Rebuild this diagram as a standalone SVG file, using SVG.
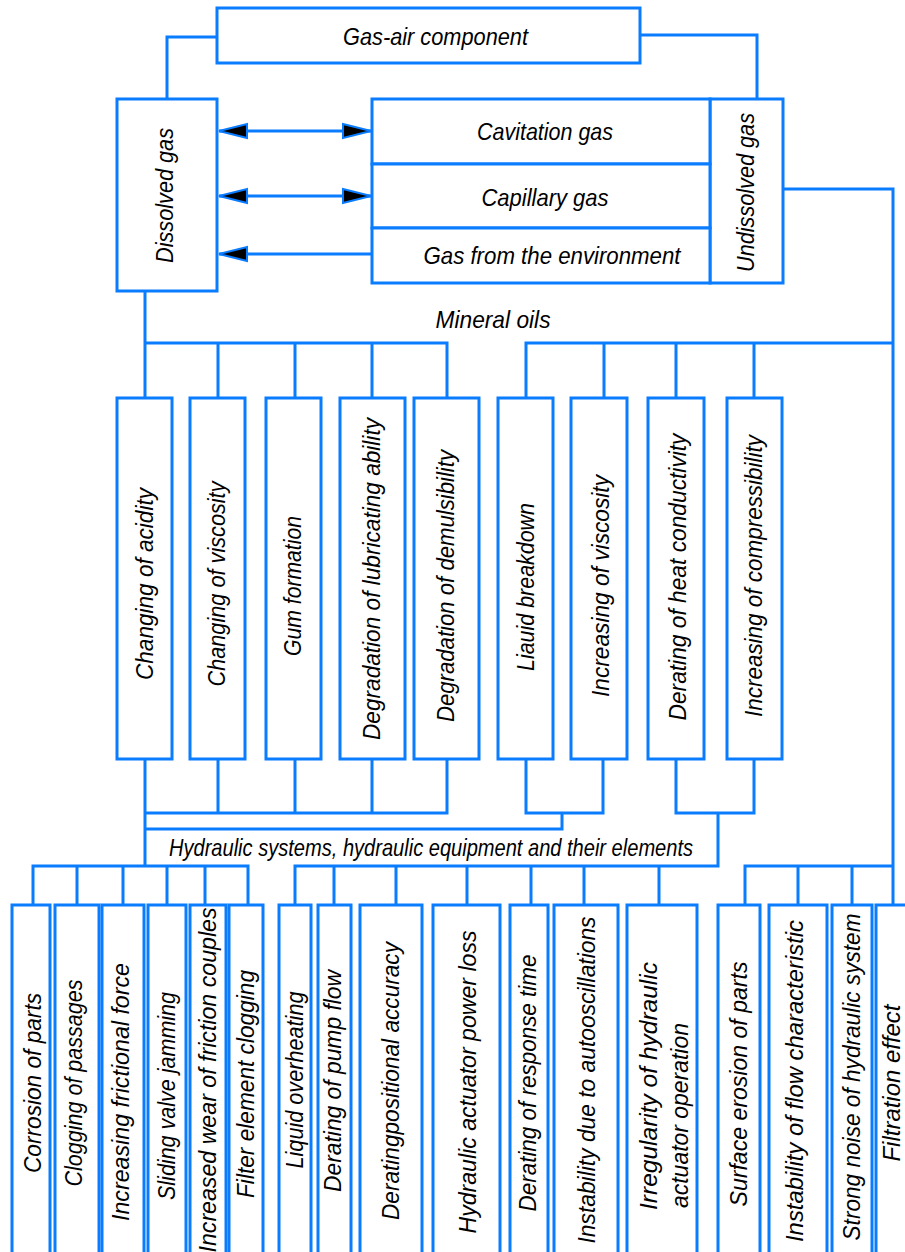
<svg xmlns="http://www.w3.org/2000/svg" width="905" height="1252" viewBox="0 0 905 1252">
<style>
.b{fill:#fff;stroke:#0a7cff;stroke-width:3}
.c{fill:none;stroke:#0a7cff;stroke-width:3}
.t{font-family:"Liberation Sans",Arial,sans-serif;font-style:italic;font-size:24px;fill:#000;text-anchor:middle;dominant-baseline:central}
.s{text-anchor:start}
</style>
<defs>
<marker id="ah" markerUnits="userSpaceOnUse" viewBox="-2 -9 32 18" markerWidth="32" markerHeight="18" refX="28" refY="0" orient="auto-start-reverse" overflow="visible">
<path d="M0,-7 L28,0 L0,7 Z" fill="#000" stroke="#0a7cff" stroke-width="2"/>
</marker>
</defs>
<rect width="905" height="1252" fill="#fff"/>

<g id="connectors">
<path class="c" d="M217,37 H167 V99"/>
<path class="c" d="M640,35 H757 V99"/>
<path class="c" d="M219,131 H371" marker-start="url(#ah)" marker-end="url(#ah)"/>
<path class="c" d="M219,196 H371" marker-start="url(#ah)" marker-end="url(#ah)"/>
<path class="c" d="M219,254 H372" marker-start="url(#ah)"/>
<path class="c" d="M783,189 H893 V905"/>
<path class="c" d="M145,291 V398 M145,343 H447 V398 M218,343 V398 M295,343 V398 M372,343 V398"/>
<path class="c" d="M893,343 H526 V398 M604,343 V398 M676,343 V398 M754,343 V398"/>
<path class="c" d="M145,759 V866 M145,813 H447 V759 M218,759 V813 M295,759 V813 M372,759 V813"/>
<path class="c" d="M526,759 V813 H603 V759 M562,813 V829 H145"/>
<path class="c" d="M676,759 V813 H754 V759 M718,813 V866 H295 V905"/>
<path class="c" d="M33,905 V866 H248 V905 M77,866 V905 M123,866 V905 M167,866 V905 M205,866 V905"/>
<path class="c" d="M334,866 V905 M396,866 V905 M467,866 V905 M531,866 V905 M584,866 V905 M659,866 V905"/>
<path class="c" d="M745,905 V866 H893 M798,866 V905 M852,866 V905"/>
</g>

<g id="n-gasair"><rect class="b" x="217" y="8" width="423" height="55"/><text class="t" x="435.5" y="36" textLength="185" lengthAdjust="spacingAndGlyphs">Gas-air component</text></g>
<g id="n-dissolved"><rect class="b" x="117" y="99" width="100" height="192"/><text class="t" transform="translate(164,195.5) rotate(-90)" textLength="135" lengthAdjust="spacingAndGlyphs">Dissolved gas</text></g>
<g id="n-undissolved"><rect class="b" x="710" y="99" width="73" height="184"/><text class="t" transform="translate(745,192.5) rotate(-90)" textLength="159" lengthAdjust="spacingAndGlyphs">Undissolved gas</text></g>
<g id="n-cavitation"><rect class="b" x="372" y="99" width="338" height="65"/><text class="t" x="545" y="131" textLength="136" lengthAdjust="spacingAndGlyphs">Cavitation gas</text></g>
<g id="n-capillary"><rect class="b" x="372" y="164" width="338" height="64"/><text class="t" x="545" y="197" textLength="127" lengthAdjust="spacingAndGlyphs">Capillary gas</text></g>
<g id="n-environment"><rect class="b" x="372" y="228" width="338" height="55"/><text class="t" x="552" y="255" textLength="257" lengthAdjust="spacingAndGlyphs">Gas from the environment</text></g>
<g id="n-mineral"><text class="t" x="493" y="319" textLength="115" lengthAdjust="spacingAndGlyphs">Mineral oils</text></g>
<g id="n-hydraulic"><text class="t" x="431" y="847" textLength="524" lengthAdjust="spacingAndGlyphs">Hydraulic systems, hydraulic equipment and their elements</text></g>

<g id="n-m1"><rect class="b" x="117" y="398" width="55" height="361"/><text class="t" transform="translate(144,584) rotate(-90)" textLength="192" lengthAdjust="spacingAndGlyphs">Changing of acidity</text></g>
<g id="n-m2"><rect class="b" x="190" y="398" width="55" height="361"/><text class="t" transform="translate(216.5,584) rotate(-90)" textLength="205" lengthAdjust="spacingAndGlyphs">Changing of viscosity</text></g>
<g id="n-m3"><rect class="b" x="266" y="398" width="55" height="361"/><text class="t" transform="translate(292,586) rotate(-90)" textLength="140" lengthAdjust="spacingAndGlyphs">Gum formation</text></g>
<g id="n-m4"><rect class="b" x="340" y="398" width="65" height="361"/><text class="t" transform="translate(371,579) rotate(-90)" textLength="322" lengthAdjust="spacingAndGlyphs">Degradation of lubricating ability</text></g>
<g id="n-m5"><rect class="b" x="414" y="398" width="65" height="361"/><text class="t" transform="translate(445,586) rotate(-90)" textLength="272" lengthAdjust="spacingAndGlyphs">Degradation of demulsibility</text></g>
<g id="n-m6"><rect class="b" x="498" y="398" width="55" height="361"/><text class="t" transform="translate(525,587) rotate(-90)" textLength="168" lengthAdjust="spacingAndGlyphs">Liauid breakdown</text></g>
<g id="n-m7"><rect class="b" x="571" y="398" width="56" height="361"/><text class="t" transform="translate(600,586) rotate(-90)" textLength="222" lengthAdjust="spacingAndGlyphs">Increasing of viscosity</text></g>
<g id="n-m8"><rect class="b" x="648" y="398" width="56" height="361"/><text class="t" transform="translate(677.5,577) rotate(-90)" textLength="287" lengthAdjust="spacingAndGlyphs">Derating of heat conductivity</text></g>
<g id="n-m9"><rect class="b" x="727" y="398" width="55" height="361"/><text class="t" transform="translate(753,576) rotate(-90)" textLength="282" lengthAdjust="spacingAndGlyphs">Increasing of compressibility</text></g>

<g id="n-b1"><rect class="b" x="12" y="905" width="38" height="370"/><text class="t" transform="translate(32,1083) rotate(-90)" textLength="180" lengthAdjust="spacingAndGlyphs">Corrosion of parts</text></g>
<g id="n-b2"><rect class="b" x="55" y="905" width="44" height="370"/><text class="t" transform="translate(73,1083) rotate(-90)" textLength="207" lengthAdjust="spacingAndGlyphs">Clogging of passages</text></g>
<g id="n-b3"><rect class="b" x="102" y="905" width="42" height="370"/><text class="t" transform="translate(120,1092) rotate(-90)" textLength="258" lengthAdjust="spacingAndGlyphs">Increasing frictional force</text></g>
<g id="n-b4"><rect class="b" x="148" y="905" width="38" height="370"/><text class="t" transform="translate(166,1096) rotate(-90)" textLength="208" lengthAdjust="spacingAndGlyphs">Sliding valve jamming</text></g>
<g id="n-b5"><rect class="b" x="190" y="905" width="36" height="370"/><text class="t" transform="translate(207,1080) rotate(-90)" textLength="345" lengthAdjust="spacingAndGlyphs">Increased wear of friction couples</text></g>
<g id="n-b6"><rect class="b" x="229" y="905" width="34" height="370"/><text class="t" transform="translate(245,1084) rotate(-90)" textLength="228" lengthAdjust="spacingAndGlyphs">Filter element clogging</text></g>
<g id="n-b7"><rect class="b" x="279" y="905" width="32" height="370"/><text class="t" transform="translate(294,1080) rotate(-90)" textLength="177" lengthAdjust="spacingAndGlyphs">Liquid overheating</text></g>
<g id="n-b8"><rect class="b" x="318" y="905" width="33" height="370"/><text class="t" transform="translate(332,1081) rotate(-90)" textLength="222" lengthAdjust="spacingAndGlyphs">Derating of pump flow</text></g>
<g id="n-b9"><rect class="b" x="360" y="905" width="62" height="370"/><text class="t" transform="translate(390,1081) rotate(-90)" textLength="278" lengthAdjust="spacingAndGlyphs">Deratingpositional accuracy</text></g>
<g id="n-b10"><rect class="b" x="433" y="905" width="67" height="370"/><text class="t" transform="translate(467,1082) rotate(-90)" textLength="303" lengthAdjust="spacingAndGlyphs">Hydraulic actuator power loss</text></g>
<g id="n-b11"><rect class="b" x="510" y="905" width="38" height="370"/><text class="t" transform="translate(527,1083) rotate(-90)" textLength="257" lengthAdjust="spacingAndGlyphs">Derating of response time</text></g>
<g id="n-b12"><rect class="b" x="554" y="905" width="64" height="370"/><text class="t" transform="translate(586,1080) rotate(-90)" textLength="327" lengthAdjust="spacingAndGlyphs">Instability due to autooscillations</text></g>
<g id="n-b13"><rect class="b" x="627" y="905" width="70" height="370"/><text class="t s" transform="translate(648,1210) rotate(-90)" textLength="248" lengthAdjust="spacingAndGlyphs">Irregularity of hydraulic</text><text class="t s" transform="translate(679,1208) rotate(-90)" textLength="185" lengthAdjust="spacingAndGlyphs">actuator operation</text></g>
<g id="n-b14"><rect class="b" x="718" y="905" width="42" height="370"/><text class="t" transform="translate(738,1084) rotate(-90)" textLength="245" lengthAdjust="spacingAndGlyphs">Surface erosion of parts</text></g>
<g id="n-b15"><rect class="b" x="769" y="905" width="58" height="370"/><text class="t" transform="translate(794,1081) rotate(-90)" textLength="322" lengthAdjust="spacingAndGlyphs">Instability of flow characteristic</text></g>
<g id="n-b16"><rect class="b" x="832" y="905" width="40" height="370"/><text class="t" transform="translate(851,1077) rotate(-90)" textLength="327" lengthAdjust="spacingAndGlyphs">Strong noise of hydraulic system</text></g>
<g id="n-b17"><rect class="b" x="876" y="905" width="40" height="370"/><text class="t" transform="translate(891,1083) rotate(-90)" textLength="157" lengthAdjust="spacingAndGlyphs">Filtration effect</text></g>
</svg>
